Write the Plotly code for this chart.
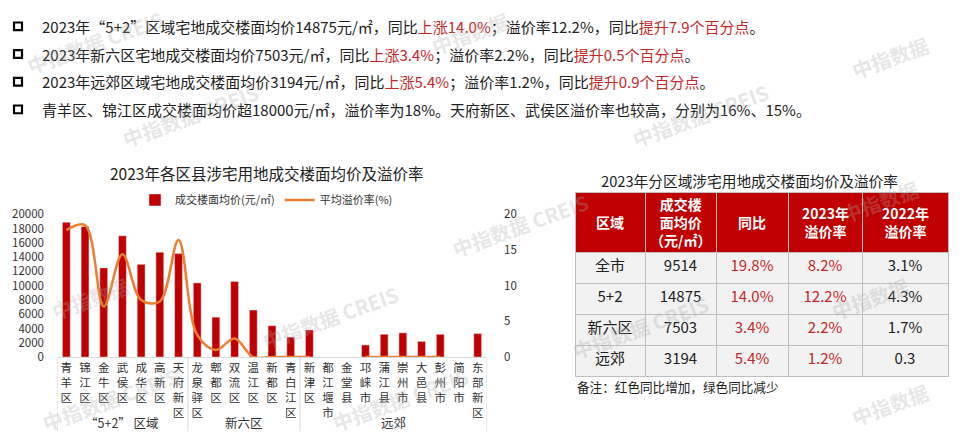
import plotly.graph_objects as go

W, H = 960, 447
def px(x): return x / W
def py(y): return 1 - y / H

FONT = "Noto Sans CJK SC, Noto Sans, sans-serif"
RED = "#C00000"
TXT_RED = "#C62828"
ORANGE = "#ED7D31"

# ---------------- data ----------------
districts = ["青羊区", "锦江区", "金牛区", "武侯区", "成华区", "高新区", "天府新区",
             "龙泉驿区", "郫都区", "双流区", "温江区", "新都区", "青白江区",
             "新津区", "都江堰市", "金堂县", "邛崃市", "蒲江县", "崇州市", "大邑县",
             "彭州市", "简阳市", "东部新区"]
avg_price = [18900, 18300, 12500, 17000, 13000, 14700, 14500,
             10400, 5600, 10600, 6600, 4400, 2800,
             3800, None, None, 1700, 3200, 3400, 2200, 3200, None, 3300]
premium_rate = [17.8, 18.5, 7.1, 14.4, 8.0, 7.8, 16.4,
                3.1, 1.0, 2.6, 0.0, 0.0, 0.0,
                0.0, None, None, 0.0, 0.0, 0.0, 0.0, 0.0, None, 0.0]
groups = ["“5+2” 区域", "新六区", "远郊"]
group_sizes = [7, 6, 10]

left_ticks = list(range(0, 20001, 2000))
right_ticks = [0, 5, 10, 15, 20]

table_regions = ["全市", "5+2", "新六区", "远郊"]
table_price = ["9514", "14875", "7503", "3194"]
table_yoy = ["19.8%", "14.0%", "3.4%", "5.4%"]
table_rate_2023 = ["8.2%", "12.2%", "2.2%", "1.2%"]
table_rate_2022 = ["3.1%", "4.3%", "1.7%", "0.3"]
table_headers = ["区域", "成交楼<br>面均价<br>（元/㎡）", "同比", "2023年<br>溢价率", "2022年<br>溢价率"]
table_colwidths = [70, 71, 72, 74, 86]

bullet_lines = [
    '2023年“5+2”区域宅地成交楼面均价14875元/㎡，同比<span style="color:%s">上涨14.0%%</span>；溢价率12.2%%，同比<span style="color:%s">提升7.9个百分点</span>。' % (TXT_RED, TXT_RED),
    '2023年新六区宅地成交楼面均价7503元/㎡，同比<span style="color:%s">上涨3.4%%</span>；溢价率2.2%%，同比<span style="color:%s">提升0.5个百分点</span>。' % (TXT_RED, TXT_RED),
    '2023年远郊区域宅地成交楼面均价3194元/㎡，同比<span style="color:%s">上涨5.4%%</span>；溢价率1.2%%，同比<span style="color:%s">提升0.9个百分点</span>。' % (TXT_RED, TXT_RED),
    '青羊区、锦江区成交楼面均价超18000元/㎡，溢价率为18%。天府新区、武侯区溢价率也较高，分别为16%、15%。',
]

# ---------------- figure ----------------
fig = go.Figure()

fig.add_trace(go.Bar(
    x=districts, y=avg_price, name="成交楼面均价(元/㎡)",
    marker_color=RED, width=0.42, yaxis="y"))
fig.add_trace(go.Scatter(
    x=districts, y=premium_rate, name="平均溢价率(%)", mode="lines",
    line=dict(color=ORANGE, width=2.5, shape="spline", smoothing=1.0),
    connectgaps=False, yaxis="y2"))

stacked = ["<br>".join(list(d)) for d in districts]

TX0, TX1 = 575, 948
fig.add_trace(go.Table(
    domain=dict(x=[px(TX0), px(TX1)], y=[py(440), py(190)]),
    columnwidth=table_colwidths,
    header=dict(values=[" "] * len(table_headers),
                fill_color=RED, align="center", height=60,
                font=dict(family=FONT, size=14, color="white"),
                line=dict(color="#BFBFBF", width=1)),
    cells=dict(values=[table_regions, table_price, table_yoy, table_rate_2023, table_rate_2022],
               fill_color="#F2F2F2", align="center", height=31,
               font=dict(family=FONT, size=15,
                         color=["#222", "#222", TXT_RED, TXT_RED, "#222"]),
               line=dict(color="#BFBFBF", width=1)),
))

shapes = []
annotations = []

# table header text
tot = sum(table_colwidths)
acc = 0
for h, cw in zip(table_headers, table_colwidths):
    xc = TX0 + (acc + cw / 2) / tot * (TX1 - TX0)
    acc += cw
    annotations.append(dict(text="<b>%s</b>" % h, xref="paper", yref="paper", x=px(xc), y=py(221),
                            xanchor="center", yanchor="middle", showarrow=False,
                            font=dict(family=FONT, size=14, color="white")))

# bullets + text lines
for i, t in enumerate(bullet_lines):
    yc = 18 + i * 28.7
    shapes.append(dict(type="rect", xref="paper", yref="paper",
                       x0=px(14), x1=px(22), y0=py(yc - 4), y1=py(yc + 4),
                       line=dict(color="black", width=2.2), fillcolor="white"))
    annotations.append(dict(text=t, xref="paper", yref="paper", x=px(40), y=py(yc),
                            xanchor="left", yanchor="middle", showarrow=False,
                            font=dict(family=FONT, size=15, color="#222")))

# chart title
annotations.append(dict(text="2023年各区县涉宅用地成交楼面均价及溢价率", xref="paper", yref="paper",
                        x=px(266), y=py(170), xanchor="center", yanchor="middle", showarrow=False,
                        font=dict(family=FONT, size=15.5, color="#222")))
# table title
annotations.append(dict(text="2023年分区域涉宅用地成交楼面均价及溢价率", xref="paper", yref="paper",
                        x=px(749), y=py(178), xanchor="center", yanchor="middle", showarrow=False,
                        font=dict(family=FONT, size=14.7, color="#222")))
# note
annotations.append(dict(text="备注：红色同比增加，绿色同比减少", xref="paper", yref="paper",
                        x=px(575), y=py(392), xanchor="left", yanchor="middle", showarrow=False,
                        font=dict(family=FONT, size=12.6, color="#222")))

# group separators and labels
start = 0
bounds = [-0.5]
for s in group_sizes:
    start += s
    bounds.append(start - 0.5)
for b in bounds:
    shapes.append(dict(type="line", xref="x", yref="paper", x0=b, x1=b,
                       y0=py(361), y1=py(438), line=dict(color="#D9D9D9", width=1)))
for gi, g in enumerate(groups):
    xc = (bounds[gi] + bounds[gi + 1]) / 2
    annotations.append(dict(text=g, xref="x", yref="paper", x=xc, y=py(429),
                            xanchor="center", yanchor="middle", showarrow=False,
                            font=dict(family=FONT, size=12.5, color="#333")))

# watermarks
wm = [(95, 35, "中指数据 CREIS"), (470, 25, "中指数据"), (890, 50, "中指数据"),
      (700, 110, "中指数据 CREIS"), (520, 225, "中指数据 CREIS"), (880, 200, "中指数据"),
      (190, 110, "中指数据 CREIS"), (90, 300, "中指数据"), (330, 320, "中指数据 CREIS"),
      (640, 330, "中指数据 CREIS"), (890, 410, "中指数据"), (110, 405, "中指数据 CREIS"),
      (400, 405, "中指数据 CREIS"), (870, 300, "中指数据")]
for (x, y, t) in wm:
    annotations.append(dict(text="<b>%s</b>" % t, xref="paper", yref="paper", x=px(x), y=py(y),
                            xanchor="center", yanchor="middle", showarrow=False, textangle=-20,
                            font=dict(family=FONT, size=20, color="rgba(170,170,170,0.3)")))

fig.update_layout(
    width=W, height=H,
    margin=dict(l=0, r=0, t=0, b=0),
    paper_bgcolor="white", plot_bgcolor="white",
    font=dict(family=FONT, color="#222"),
    showlegend=True,
    legend=dict(orientation="h", x=px(135), y=py(198), xanchor="left", yanchor="middle",
                font=dict(family=FONT, size=11, color="#333"), itemwidth=30,
                bgcolor="rgba(0,0,0,0)", tracegroupgap=0),
    bargap=0.5,
    xaxis=dict(domain=[px(57), px(487)], type="category", range=[-0.5, 22.5],
               tickmode="array", tickvals=districts, ticktext=stacked, tickangle=0,
               tickfont=dict(family=FONT, size=11.5, color="#333"),
               showline=True, linecolor="#D9D9D9", linewidth=1, ticks="",
               showgrid=False, zeroline=False, fixedrange=True),
    yaxis=dict(domain=[py(361), py(213)], range=[0, 20000], tickmode="array", tickvals=left_ticks,
               ticktext=[str(v) for v in left_ticks],
               tickfont=dict(family=FONT, size=11.5, color="#333"),
               showgrid=False, zeroline=False, showline=False, ticks="",
               ticklabelstandoff=12),
    yaxis2=dict(overlaying="y", side="right", range=[0, 20], tickmode="array", tickvals=right_ticks,
                ticktext=[str(v) for v in right_ticks],
                tickfont=dict(family=FONT, size=11.5, color="#333"),
                showgrid=False, zeroline=False, showline=False, ticks="",
                ticklabelstandoff=16),
    shapes=shapes, annotations=annotations,
)

fig.write_html("out.html", config={"displayModeBar": False},
               post_script="document.body.style.margin='0';")
